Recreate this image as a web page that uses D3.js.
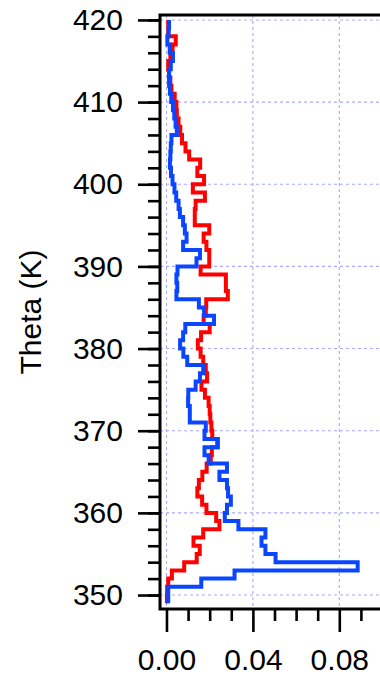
<!DOCTYPE html>
<html>
<head>
<meta charset="utf-8">
<script src="https://cdn.jsdelivr.net/npm/d3@7"></script>
<style>
  html, body { margin: 0; padding: 0; background: #fff; }
  svg { display: block; }
  text { font-family: "Liberation Sans", Arial, Helvetica, sans-serif; }
</style>
</head>
<body>
<svg id="chart" width="380" height="677"></svg>
<script>
// Lower edge (K) of each 1 K potential-temperature bin
const thetaLow = [349,350,351,352,353,354,355,356,357,358,359,360,361,362,363,364,365,366,367,368,
  369,370,371,372,373,374,375,376,377,378,379,380,381,382,383,384,385,386,387,388,
  389,390,391,392,393,394,395,396,397,398,399,400,401,402,403,404,405,406,407,408,
  409,410,411,412,413,414,415,416,417,418,419];

// Frequency per bin, red profile
const redValues = [0.0002,0.0003,0.0008,0.0025,0.0082,0.0140,0.0154,0.0125,0.0170,0.0245,
  0.0230,0.0185,0.0165,0.0143,0.0150,0.0166,0.0186,0.0205,0.0210,0.0238,
  0.0212,0.0208,0.0203,0.0200,0.0195,0.0178,0.0162,0.0188,0.0182,0.0170,
  0.0158,0.0145,0.0160,0.0200,0.0172,0.0182,0.0184,0.0284,0.0275,0.0275,
  0.0158,0.0198,0.0198,0.0185,0.0172,0.0198,0.0131,0.0131,0.0135,0.0178,
  0.0122,0.0174,0.0143,0.0156,0.0105,0.0088,0.0072,0.0064,0.0056,0.0048,
  0.0046,0.0038,0.0023,0.0018,0.0012,0.0008,0.0018,0.0028,0.0043,0.0008,0.0008];

// Frequency per bin, blue profile
const blueValues = [0.0008,0.0008,0.0161,0.0315,0.0885,0.0505,0.0458,0.0440,0.0458,0.0333,
  0.0270,0.0280,0.0298,0.0285,0.0280,0.0245,0.0280,0.0195,0.0176,0.0235,
  0.0176,0.0182,0.0108,0.0108,0.0100,0.0101,0.0135,0.0155,0.0170,0.0096,
  0.0078,0.0063,0.0077,0.0087,0.0220,0.0174,0.0150,0.0046,0.0050,0.0046,
  0.0051,0.0139,0.0155,0.0077,0.0093,0.0085,0.0077,0.0062,0.0056,0.0045,
  0.0037,0.0028,0.0021,0.0016,0.0018,0.0020,0.0023,0.0048,0.0042,0.0036,
  0.0030,0.0022,0.0016,0.0012,0.0012,0.0020,0.0030,0.0015,0.0004,0.0010,0.0012];

const xMajorTicks = [0, 0.04, 0.08];
const xMinorTicks = [0.01, 0.02, 0.03, 0.05, 0.06, 0.07, 0.09];
const yMajorTicks = [350, 360, 370, 380, 390, 400, 410, 420];
const yMinorTicks = [350, 352, 354, 356, 358, 360, 362, 364, 366, 368, 370, 372, 374, 376, 378,
  380, 382, 384, 386, 388, 390, 392, 394, 396, 398, 400, 402, 404, 406, 408, 410, 412, 414,
  416, 418, 420];
const binWidth = 1;
const yTitle = "Theta (K)";

(function draw() {
  const svg = d3.select("#chart");
  const mLeft = 160, mRight = 382.5, mTop = 15, mBottom = 609;

  const x = d3.scaleLinear().domain([-0.003, 0.1]).range([mLeft, mRight]);
  const y = d3.scaleLinear().domain([348.3, 420.6]).range([mBottom, mTop]);

  svg.append("defs").append("clipPath").attr("id", "plot-clip")
    .append("rect").attr("x", mLeft).attr("y", mTop)
    .attr("width", mRight - mLeft).attr("height", mBottom - mTop);

  // Dashed grid
  const grid = svg.append("g").attr("stroke", "#a9a9ff").attr("stroke-width", 1.1)
    .attr("stroke-dasharray", "3,3");
  grid.selectAll("line.v").data(xMajorTicks).join("line").attr("class", "v")
    .attr("x1", d => x(d)).attr("x2", d => x(d)).attr("y1", mTop).attr("y2", mBottom);
  grid.selectAll("line.h").data(yMajorTicks).join("line").attr("class", "h")
    .attr("x1", mLeft).attr("x2", mRight).attr("y1", d => y(d)).attr("y2", d => y(d));

  // Histogram outlines drawn as vertical steps
  function stepPoints(values) {
    const pts = [];
    values.forEach((v, i) => {
      pts.push([v, thetaLow[i]]);
      pts.push([v, thetaLow[i] + binWidth]);
    });
    return pts;
  }
  const line = d3.line().x(d => x(d[0])).y(d => y(d[1]));

  const plot = svg.append("g").attr("clip-path", "url(#plot-clip)");
  plot.append("path").attr("d", line(stepPoints(redValues)))
    .attr("fill", "none").attr("stroke", "#ff0000").attr("stroke-width", 4)
    .attr("stroke-linejoin", "miter");
  plot.append("path").attr("d", line(stepPoints(blueValues)))
    .attr("fill", "none").attr("stroke", "#0a46ff").attr("stroke-width", 4)
    .attr("stroke-linejoin", "miter");

  // Axes
  function styleAxis(g) {
    g.select(".domain").remove();
    g.selectAll(".tick line").attr("stroke", "#000").attr("stroke-width", 2.6);
    g.selectAll("text").attr("fill", "#000").attr("font-size", 30);
  }

  svg.append("g").attr("transform", `translate(0,${mBottom})`)
    .call(d3.axisBottom(x).tickValues(xMinorTicks).tickSize(12).tickFormat(""))
    .call(styleAxis);
  svg.append("g").attr("transform", `translate(0,${mBottom})`)
    .call(d3.axisBottom(x).tickValues(xMajorTicks).tickSize(23).tickPadding(17)
      .tickFormat(d3.format(".2f")))
    .call(styleAxis);

  svg.append("g").attr("transform", `translate(${mLeft},0)`)
    .call(d3.axisLeft(y).tickValues(yMinorTicks).tickSize(12).tickFormat(""))
    .call(styleAxis);
  svg.append("g").attr("transform", `translate(${mLeft},0)`)
    .call(d3.axisLeft(y).tickValues(yMajorTicks).tickSize(22).tickPadding(15)
      .tickFormat(d3.format("d")))
    .call(styleAxis);

  // Frame
  svg.append("path")
    .attr("d", `M${mRight + 5},${mTop}H${mLeft}V${mBottom}H${mRight + 5}`)
    .attr("fill", "none").attr("stroke", "#000").attr("stroke-width", 3);

  svg.append("text")
    .attr("transform", `translate(41,${(mTop + mBottom) / 2}) rotate(-90)`)
    .attr("text-anchor", "middle").attr("font-size", 30).attr("fill", "#000")
    .text(yTitle);
})();
</script>
</body>
</html>
